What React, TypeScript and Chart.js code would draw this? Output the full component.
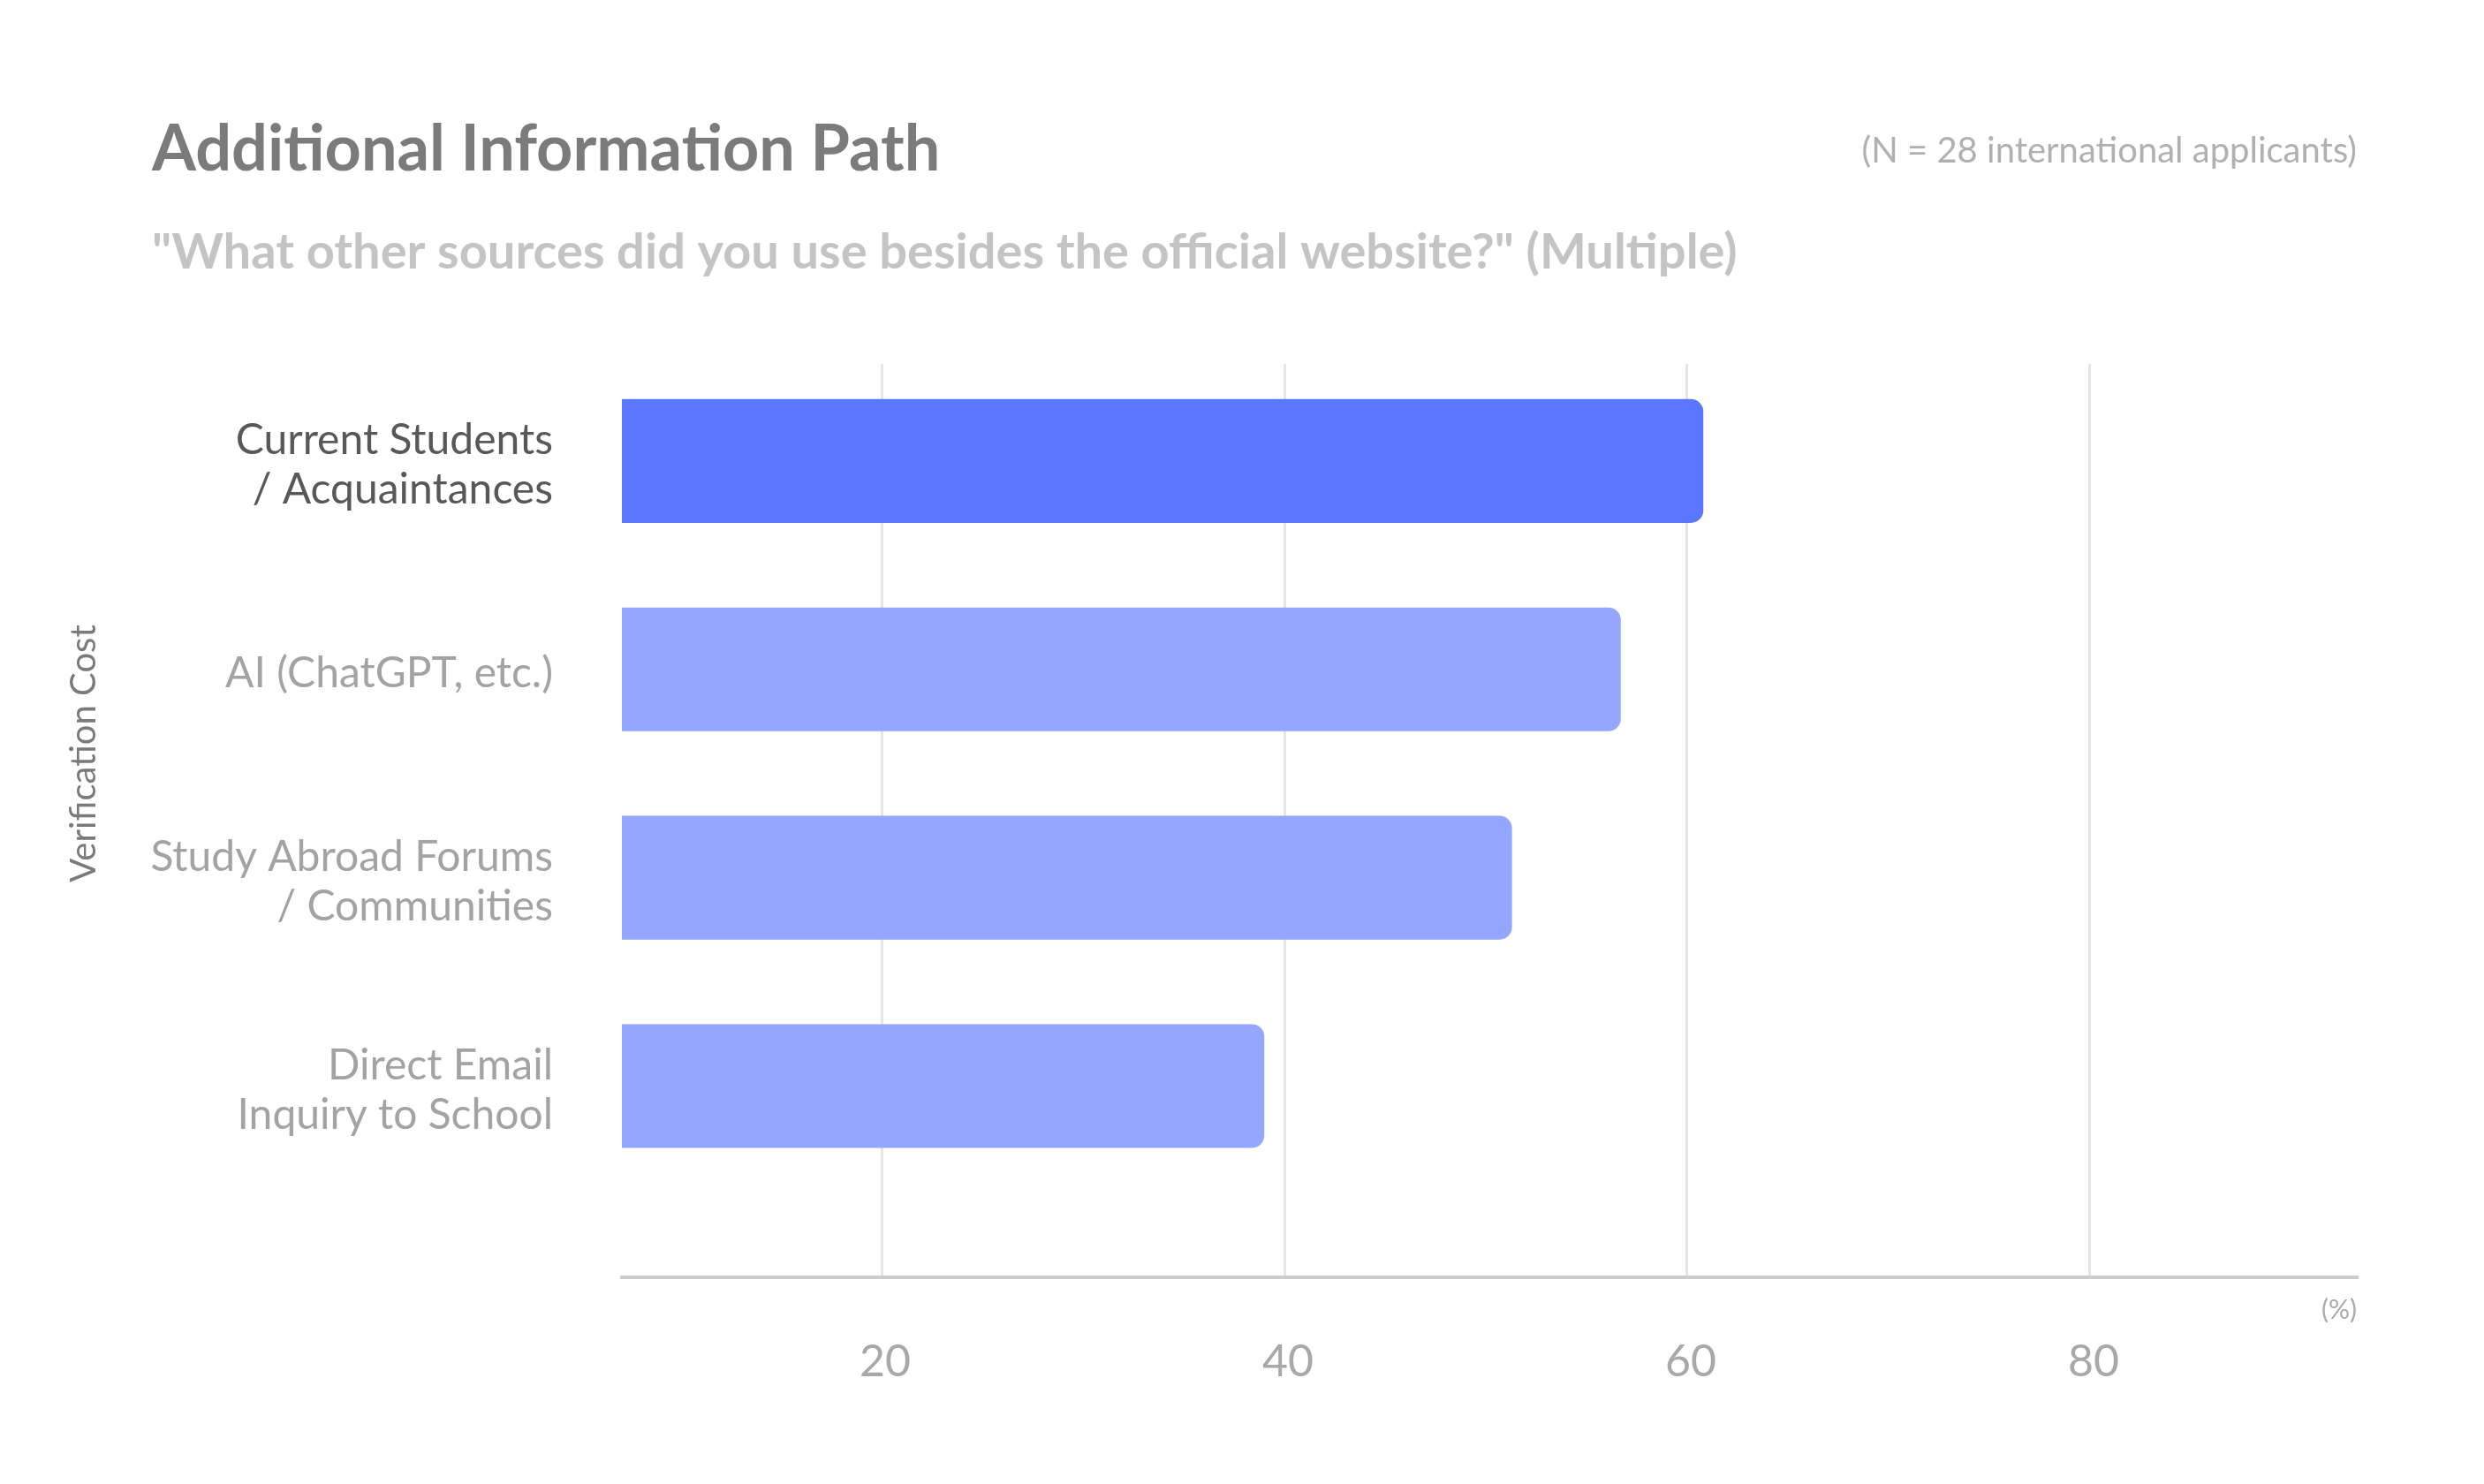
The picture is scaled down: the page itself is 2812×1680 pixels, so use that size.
import React, { useEffect, useRef } from "react";
import { Chart, registerables } from "chart.js";

Chart.register(...registerables);

const TITLE = "Additional Information Path";
const SUBTITLE = '"What other sources did you use besides the official website?" (Multiple)';
const NOTE = "(N = 28 international applicants)";
const Y_TITLE = "Verification Cost";
const X_UNIT = "(%)";

const CATEGORIES: string[][] = [
  ["Current Students", "/ Acquaintances"],
  ["AI (ChatGPT, etc.)"],
  ["Study Abroad Forums", "/ Communities"],
  ["Direct Email", "Inquiry to School"],
];
const VALUES = [60.8, 56.7, 51.3, 39.0];
const X_TICKS = [20, 40, 60, 80];
const X_MIN = 7.1;
const X_MAX = 93.25;

const HIGHLIGHT = "#5B77FF";
const NORMAL = "#94A6FD";

const W = 2812;
const H = 1680;
const FONT = "Lato, 'Noto Sans', sans-serif";

const textPlugin = {
  id: "headerTexts",
  afterDraw(chart: any) {
    const { ctx, chartArea } = chart;
    ctx.save();
    ctx.textBaseline = "alphabetic";
    ctx.textAlign = "left";
    ctx.fillStyle = "#7b7b7b";
    ctx.font = `700 72px ${FONT}`;
    ctx.fillText(TITLE, 172, 193);

    ctx.fillStyle = "#c4c4c4";
    ctx.font = `700 56px ${FONT}`;
    ctx.fillText(SUBTITLE, 172, 304);

    ctx.textAlign = "right";
    ctx.fillStyle = "#b0b0b0";
    ctx.font = `400 40px ${FONT}`;
    ctx.fillText(NOTE, chartArea.right, 184);

    ctx.fillStyle = "#aaaaaa";
    ctx.font = `400 30px ${FONT}`;
    ctx.textBaseline = "middle";
    ctx.fillText(X_UNIT, chartArea.right, chartArea.bottom + 37);

    ctx.translate(108, 853);
    ctx.rotate(-Math.PI / 2);
    ctx.textAlign = "center";
    ctx.textBaseline = "alphabetic";
    ctx.fillStyle = "#7a7a7a";
    ctx.font = `400 40px ${FONT}`;
    ctx.fillText(Y_TITLE, 0, 0);
    ctx.restore();
  },
};

export default function App() {
  const ref = useRef<HTMLCanvasElement | null>(null);

  useEffect(() => {
    if (!ref.current) return;
    const chart = new Chart(ref.current, {
      type: "bar",
      data: {
        datasets: [
          {
            data: VALUES.map((v, i) => ({ x: v, y: i })) as any,
            backgroundColor: VALUES.map((_, i) => (i === 0 ? HIGHLIGHT : NORMAL)),
            borderRadius: 14,
            borderSkipped: false,
            barPercentage: 0.594,
            categoryPercentage: 1,
          },
        ],
      },
      options: {
        indexAxis: "y",
        animation: false,
        responsive: false,
        devicePixelRatio: 1,
        layout: { padding: { left: 0, right: W - 2668, top: 412, bottom: 100 } },
        plugins: {
          legend: { display: false },
          title: { display: false },
          tooltip: { enabled: false },
        },
        scales: {
          x: {
            type: "linear",
            position: "bottom",
            min: X_MIN,
            max: X_MAX,
            afterBuildTicks: (scale: any) => {
              scale.ticks = X_TICKS.map((v) => ({ value: v }));
            },
            afterFit: (scale: any) => {
              scale.height = 134;
            },
            grid: { color: "#e6e6e6", lineWidth: 3, drawTicks: false },
            border: { display: true, color: "#cccccc", width: 4 },
            ticks: {
              color: "#a8a8a8",
              font: { family: FONT, size: 50, weight: "400" },
              padding: 66,
              labelOffset: 4,
              maxRotation: 0,
              autoSkip: false,
            },
          },
          y: {
            type: "linear",
            reverse: true,
            offset: false,
            min: -0.466,
            max: 3.918,
            afterBuildTicks: (scale: any) => {
              scale.ticks = CATEGORIES.map((_, i) => ({ value: i }));
            },
            afterFit: (scale: any) => {
              scale.width = 704;
            },
            grid: { display: false, drawTicks: false, offset: false },
            border: { display: false },
            ticks: {
              callback: (value: any) => CATEGORIES[Math.round(Number(value))] ?? "",
              color: (c: any) => (c.index === 0 ? "#585858" : "#a3a3a3"),
              font: { family: FONT, size: 48, weight: "400", lineHeight: 1.17 },
              padding: 78,
              labelOffset: 5,
              autoSkip: false,
            },
          },
        },
      },
      plugins: [textPlugin],
    });
    return () => chart.destroy();
  }, []);

  return (
    <div style={{ position: "fixed", left: 0, top: 0, width: W, height: H, background: "#ffffff" }}>
      <canvas ref={ref} width={W} height={H} style={{ width: W, height: H, display: "block" }} />
    </div>
  );
}
